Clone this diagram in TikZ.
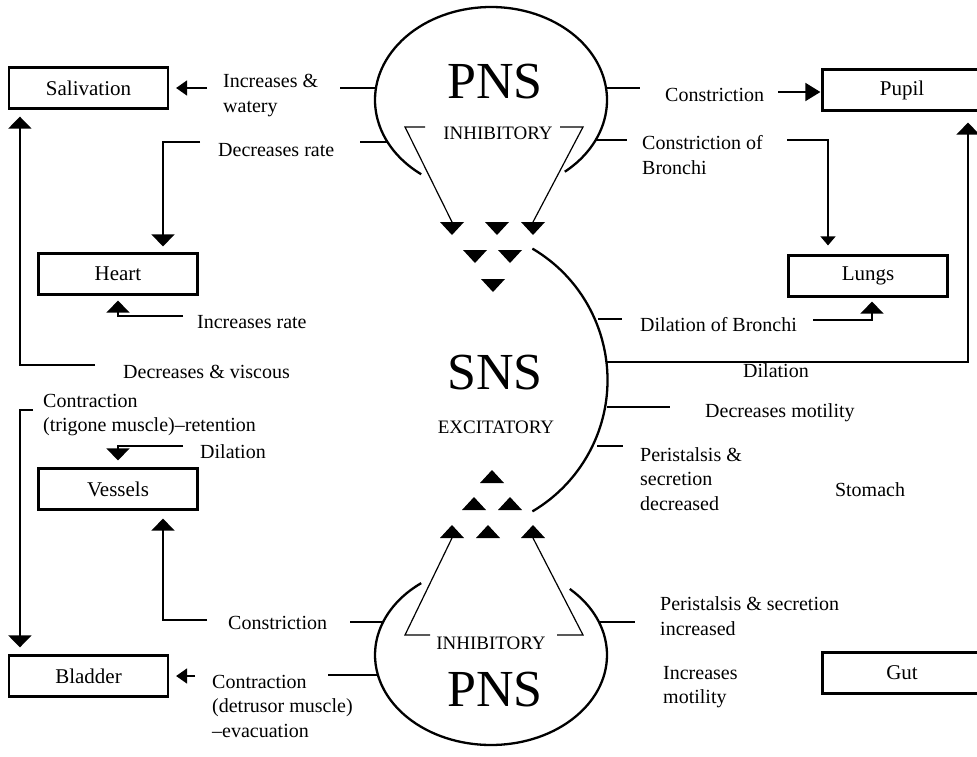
\documentclass[tikz,border=0pt]{standalone}
\usepackage{fontspec}
\setmainfont{Liberation Serif}
\usetikzlibrary{arrows.meta}
\begin{document}
\begin{tikzpicture}[x=1pt,y=-1pt,
  organ/.style={draw, line width=2.2pt, minimum width=159pt, minimum height=41pt, inner sep=0pt, font=\fontsize{21}{25}\selectfont},
  lbl/.style={anchor=west, align=left, inner sep=0pt, font=\fontsize{20}{24.5}\selectfont},
  wire/.style={line width=1.7pt},
  thinwire/.style={line width=1.2pt},
  outline/.style={line width=2.3pt},
  big/.style={inner sep=0pt, font=\fontsize{52}{56}\selectfont},
  caps/.style={inner sep=0pt, font=\fontsize{19}{22}\selectfont},
  arr/.style={-{Triangle[width=23pt,length=12pt]}},
  arrside/.style={-{Triangle[width=15pt,length=11pt]}},
  arrsmall/.style={-{Triangle[width=15pt,length=9pt]}},
  dtri/.pic={\fill (-12,-6) -- (12,-6) -- (0,7) -- cycle; \coordinate (-top) at (0,-6);},
  utri/.pic={\fill (-12,6) -- (12,6) -- (0,-7) -- cycle; \coordinate (-bot) at (0,6);}
]
\useasboundingbox (0,0) rectangle (977,756);

% ---------- organ boxes ----------
\node[organ] (sal)     at (88.5,88)  {Salivation};
\node[organ] (heart)   at (118,274)  {Heart};
\node[organ] (vessels) at (118,489)  {Vessels};
\node[organ] (bladder) at (88.5,676) {Bladder};
\node[organ] (pupil)   at (902,90)   {Pupil};
\node[organ] (lungs)   at (868,276)  {Lungs};
\node[organ] (gut)     at (902,673)  {Gut};

% ---------- upper PNS balloon ----------
\draw[outline] (491,100) ++(127:116 and 93) arc[start angle=127, end angle=410.5, x radius=116, y radius=93];
\node[big]  (pnsT)  at (495,82)  {PNS};
\node[caps] (inhT)  at (498,133) {INHIBITORY};

% ---------- SNS arc ----------
\draw[outline] (455,380) ++(-59.5:152.5) arc[start angle=-59.5, end angle=59.5, radius=152.5];
\node[big]  (sns)  at (495,373) {SNS};
\node[caps] (exc)  at (496,427) {EXCITATORY};

% ---------- lower PNS balloon ----------
\draw[outline] (491,655) ++(-47.2:116 and 90) arc[start angle=-47.2, end angle=233, x radius=116, y radius=90];
\node[caps] (inhB) at (491,643) {INHIBITORY};
\node[big]  (pnsB) at (495,690) {PNS};

% ---------- central arrowheads ----------
\pic (tA) at (452,228) {dtri};
\pic (tB) at (497,228) {dtri};
\pic (tC) at (533,228) {dtri};
\pic (tD) at (475,256) {dtri};
\pic (tE) at (510,256) {dtri};
\pic (tF) at (493,285) {dtri};

\pic (bF) at (492,477) {utri};
\pic (bD) at (474,504) {utri};
\pic (bE) at (510,504) {utri};
\pic (bA) at (452,532) {utri};
\pic (bB) at (488,532) {utri};
\pic (bC) at (533,532) {utri};

% brackets beside INHIBITORY
\coordinate (iTl) at (405,127); \coordinate (iTr) at (583,127);
\draw[thinwire] (425,127) -- (iTl) -- (tA-top);
\draw[thinwire] (560,127) -- (iTr) -- (tC-top);
\coordinate (iBl) at (405,635); \coordinate (iBr) at (583,635);
\draw[thinwire] (430,635) -- (iBl) -- (bA-bot);
\draw[thinwire] (557,635) -- (iBr) -- (bC-bot);

% ---------- labels ----------
\node[lbl] (l1)  at (223,95.5) {Increases \&\\watery};
\node[lbl] (l2)  at (218,150)  {Decreases rate};
\node[lbl] (l3)  at (197,322)  {Increases rate};
\node[lbl] (l4)  at (123,372)  {Decreases \& viscous};
\node[lbl] (l5)  at (43,415)   {Contraction\\(trigone muscle)–retention};
\node[lbl] (l6)  at (200,452)  {Dilation};
\node[lbl] (l7)  at (228,623)  {Constriction};
\node[lbl] (l8)  at (212,706)  {Contraction\\(detrusor muscle)\\–evacuation};
\node[lbl] (r1)  at (665,95)   {Constriction};
\node[lbl] (r2)  at (642,155)  {Constriction of\\Bronchi};
\node[lbl] (r3)  at (640,325)  {Dilation of Bronchi};
\node[lbl, anchor=center] (r4) at (776,371) {Dilation};
\node[lbl] (r5)  at (705,413)  {Decreases motility};
\node[lbl] (r6)  at (640,479)  {Peristalsis \&\\secretion\\decreased};
\node[lbl, anchor=center] (stom) at (870,490) {Stomach};
\node[lbl] (r7)  at (660,616)  {Peristalsis \& secretion\\increased};
\node[lbl] (r8)  at (663,687)  {Increases\\motility};

% ---------- stubs leaving the balloons and the SNS arc ----------
\coordinate (sT1a) at (376,88);  \coordinate (sT1b) at (340,88);
\coordinate (sT2a) at (387,142); \coordinate (sT2b) at (360,142);
\coordinate (sT3a) at (606,88);  \coordinate (sT3b) at (640,88);
\coordinate (sT4a) at (595,140); \coordinate (sT4b) at (627,140);
\coordinate (sS1a) at (598,319); \coordinate (sS1b) at (622,319);
\coordinate (sS3a) at (607,407); \coordinate (sS3b) at (670,407);
\coordinate (sS4a) at (597,446); \coordinate (sS4b) at (623,446);
\coordinate (sB1a) at (383,622); \coordinate (sB1b) at (350,622);
\coordinate (sB2a) at (378,675); \coordinate (sB2b) at (328,675);
\coordinate (sB3a) at (599,622); \coordinate (sB3b) at (635,622);
\foreach \s in {sT1,sT2,sT3,sT4,sS1,sS3,sS4,sB1,sB2,sB3}
  \draw[wire] (\s a) -- (\s b);

% ---------- connectors to the organs ----------
% left, upper
\coordinate (cSal) at (207,88);
\draw[wire,arrside,shorten >=7pt] (cSal) -- (sal.east);
\coordinate (cHeartD) at (200,142);
\draw[wire,arr,shorten >=6pt] (cHeartD) -| ([xshift=45pt]heart.north);
\coordinate (cHeartU) at (183,316);
\draw[wire,arr,shorten >=5pt] (cHeartU) -| (heart.south);
\coordinate (cVisc) at (95,365);
\draw[wire,arr,shorten >=7pt] (cVisc) -| ([xshift=12pt]sal.south west);

% left, lower
\coordinate (cTrig) at (33,410);
\draw[wire,arr,shorten >=7pt] (cTrig) -| ([xshift=12pt]bladder.north west);
\coordinate (cVesD) at (183,446);
\draw[wire,arr,shorten >=7pt] (cVesD) -| (vessels.north);
\coordinate (cVesU) at (207,620);
\draw[wire,arr,shorten >=8pt] (cVesU) -| ([xshift=45pt]vessels.south);
\coordinate (cBlad) at (195,676);
\draw[wire,arrside,shorten >=7pt] (cBlad) -- (bladder.east);

% right
\coordinate (cPup) at (778,92);
\draw[wire,-{Triangle[width=18pt,length=15pt]},shorten >=1pt] (cPup) -- ([yshift=-2pt]pupil.west);
\coordinate (cBronC) at (787,140);
\draw[thinwire,arrsmall,shorten >=9pt] (cBronC) -| ([xshift=-40pt]lungs.north);
\coordinate (cBronD) at (813,320);
\draw[wire,arr,shorten >=4pt] (cBronD) -| ([xshift=4pt]lungs.south);
\coordinate (cDil) at (607,362);
\draw[wire,arr,shorten >=11pt] (cDil) -| ([xshift=66pt]pupil.south);
\end{tikzpicture}
\end{document}
